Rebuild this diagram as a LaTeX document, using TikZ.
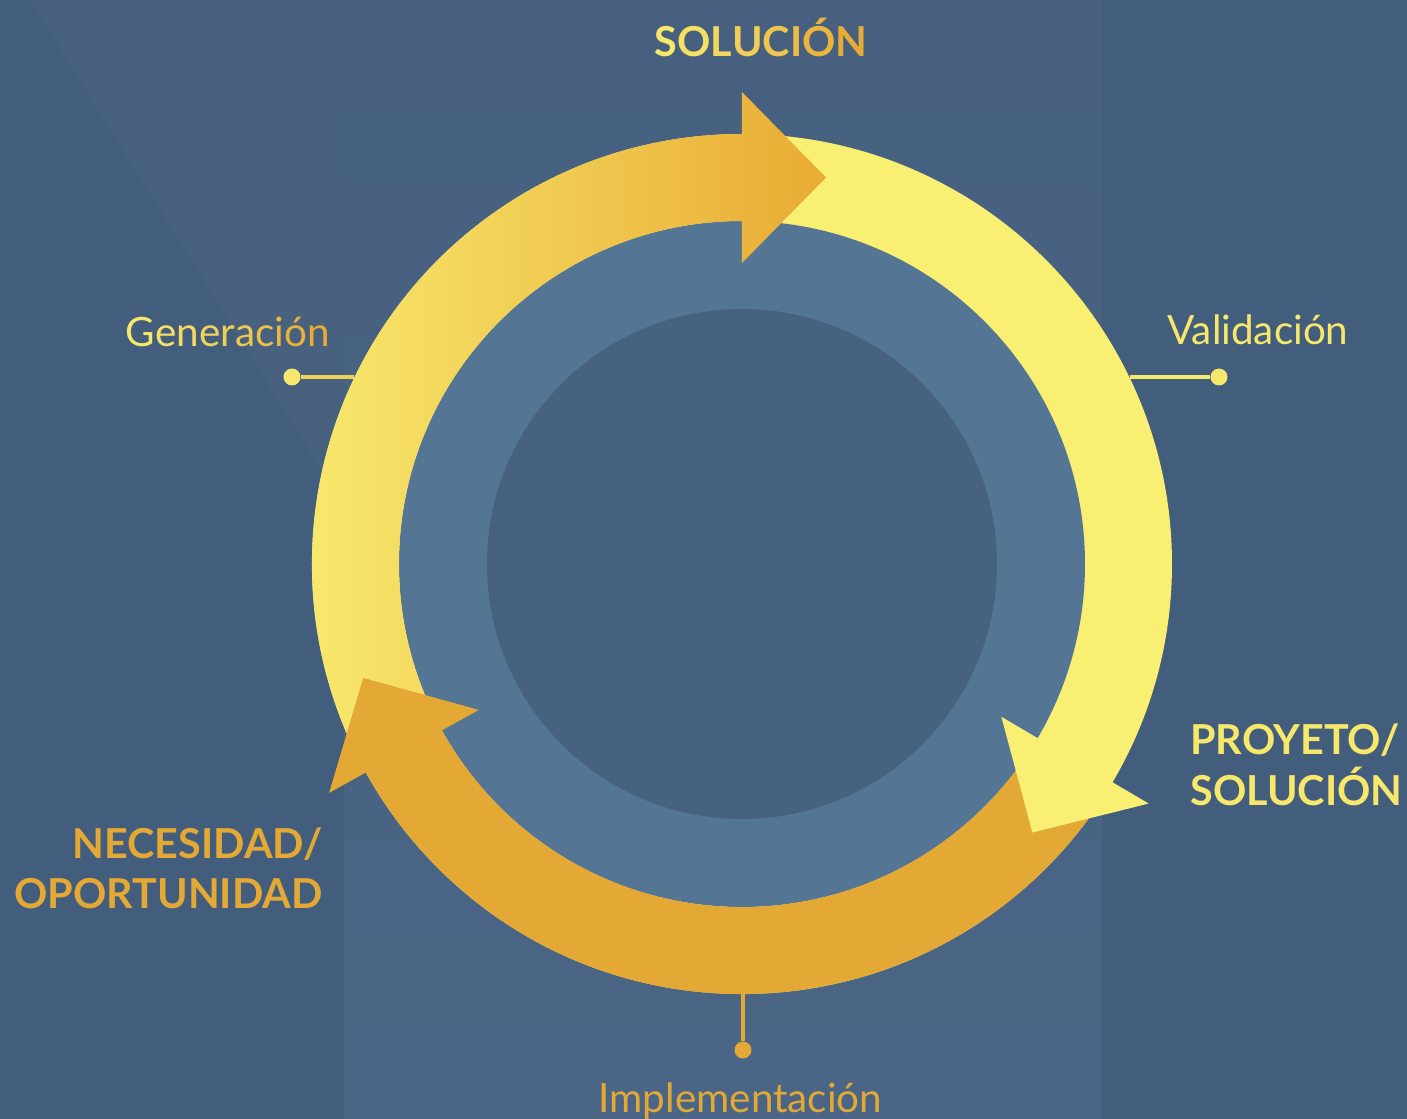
\documentclass[tikz,border=0pt]{standalone}
\usepackage{fontspec}
\setmainfont{Lato}
\usetikzlibrary{calc}

\definecolor{bgbase}{HTML}{435D7C}
\definecolor{bgband}{HTML}{47607F}
\definecolor{bgbandlow}{HTML}{4A6585}
\definecolor{bgwedge}{HTML}{47617F}
\definecolor{ryel}{HTML}{F9EF73}
\definecolor{rorg}{HTML}{E4A835}
\definecolor{rgrad}{HTML}{E9AB34}
\definecolor{discmid}{HTML}{557595}
\definecolor{discdark}{HTML}{47627F}
\definecolor{tyel}{HTML}{F7E86C}
\definecolor{torg}{HTML}{E8AC36}

\tikzset{
  lbl/.style={font=\fontsize{23}{23}\selectfont, inner sep=0pt},
  boldlbl/.style={font=\fontsize{23.5}{23.5}\selectfont\bfseries, inner sep=0pt},
  pindot/.style={circle, inner sep=0pt, minimum size=0.34cm},
  pinline/.style={line width=1.9pt}
}

\begin{document}
\begin{tikzpicture}[x=0.02cm,y=0.02cm]

\useasboundingbox (-742,-555) rectangle (665,564);

%background
\fill[bgbase] (-742,-555) rectangle (665,564);
\fill[bgwedge] (-712,564) -- (-398,564) -- (-398,58) -- cycle;
\shade[top color=bgband, bottom color=bgbandlow] (-398,-555) rectangle (360,564);

%ring
\fill[ryel] (0,0) circle (430);
\fill[discmid] (0,0) circle (343);
\fill[discdark] (0,0) circle (255);

%top arrow
\shade[left color=ryel, right color=rgrad]
  (209:430) arc[start angle=209, end angle=90, radius=430]
  -- (90:472) -- ($(90:386.5)+(0:84)$) -- (90:301)
  -- (90:343) arc[start angle=90, end angle=209, radius=343] -- cycle;

%bottom arrow
\fill[rorg]
  (-33:430) arc[start angle=-33, end angle=-151, radius=430]
  -- (-151:472) -- ($(-151:386.5)+(-241:84)$) -- (-151:301)
  -- (-151:343) arc[start angle=-151, end angle=-33, radius=343] -- cycle;

%right arrow head
\fill[ryel] (-30.5:472) -- ($(-30.5:386.5)+(-120.5:84)$) -- (-30.5:301) -- cycle;

%titles
\node (sol) [boldlbl, anchor=base] at (19,507) {%
\textcolor{tyel}{S}\textcolor{tyel!86!torg}{O}\textcolor{tyel!71!torg}{L}%
\textcolor{tyel!57!torg}{U}\textcolor{tyel!43!torg}{C}\textcolor{tyel!29!torg}{I}%
\textcolor{tyel!14!torg}{Ó}\textcolor{torg}{N}};
\node (proy) [boldlbl, anchor=base west, text=tyel] at (448,-190) {PROYETO/};
\node (proysol) [boldlbl, anchor=base west, text=tyel] at (448,-241) {SOLUCIÓN};
\node (nec) [boldlbl, anchor=base east, text=rorg] at (-419,-294) {NECESIDAD/};
\node (opo) [boldlbl, anchor=base east, text=rorg] at (-419,-344) {OPORTUNIDAD};

%stages
\node (gen) [lbl, anchor=base] at (-514,217) {%
\textcolor{tyel}{G}\textcolor{tyel!89!torg}{e}\textcolor{tyel!78!torg}{n}%
\textcolor{tyel!67!torg}{e}\textcolor{tyel!56!torg}{r}\textcolor{tyel!44!torg}{a}%
\textcolor{tyel!33!torg}{c}\textcolor{tyel!22!torg}{i}\textcolor{tyel!11!torg}{ó}%
\textcolor{torg}{n}};
\node (val) [lbl, anchor=base, text=tyel] at (516,219) {Validación};
\node (imp) [lbl, anchor=base, text=rorg] at (-1.5,-548) {Implementación};

% pins
\node (gendot) [pindot, fill=tyel] at (-450,187) {};
\coordinate (genring) at (-388,187);
\draw[pinline, tyel!60!torg] (gendot) -- (genring);

\node (valdot) [pindot, fill=tyel] at (477,187) {};
\coordinate (valring) at (388,187);
\draw[pinline, tyel] (valdot) -- (valring);

\node (impdot) [pindot, fill=rorg] at (1,-486) {};
\coordinate (impring) at (1,-429);
\draw[pinline, rorg] (impdot) -- (impring);

\end{tikzpicture}
\end{document}
